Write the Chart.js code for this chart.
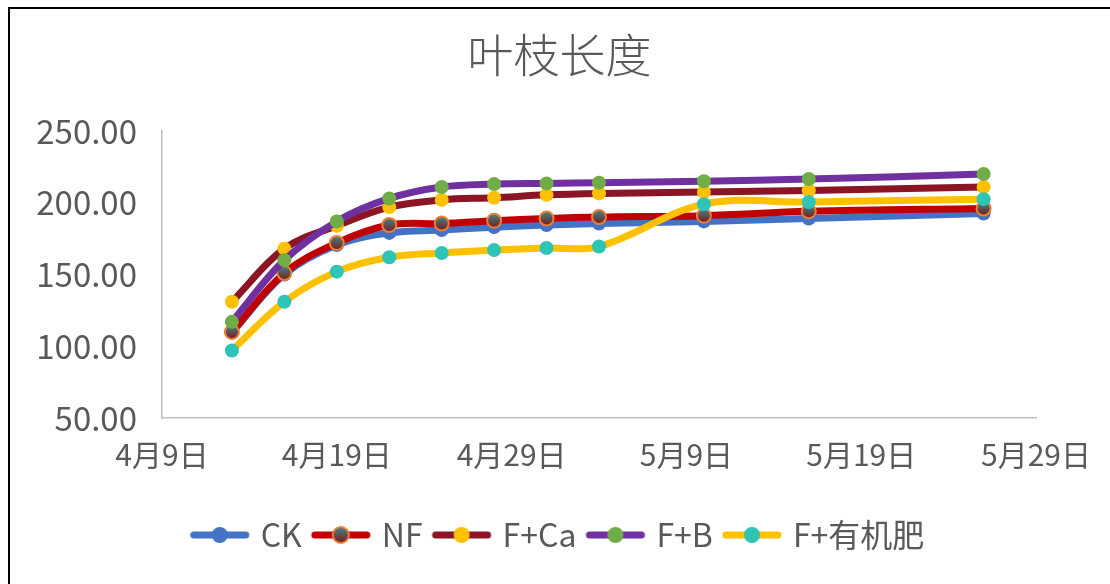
<!DOCTYPE html>
<html>
<head>
<meta charset="utf-8">
<script src="https://cdn.jsdelivr.net/npm/chart.js@4.4.1/dist/chart.umd.min.js"></script>
<style>
  html, body { margin: 0; padding: 0; background: #fff; }
  body { width: 1110px; height: 584px; position: relative; overflow: hidden; }
  #frame { position: absolute; left: 8px; top: 7px; width: 1110px; height: 600px;
           border-left: 2px solid #000; border-top: 2px solid #000; }
  #c { position: absolute; left: 0; top: 0; }
</style>
</head>
<body>
<div id="frame"></div>
<canvas id="c" width="1110" height="584"></canvas>
<script>
// Measurement dates (month/day)
const dates = ['4/13', '4/16', '4/19', '4/22', '4/25', '4/28', '5/1', '5/4', '5/10', '5/16', '5/26'];
// Date axis labels, one every 10 days starting at 4月9日
const tickLabels = ['4月9日', '4月19日', '4月29日', '5月9日', '5月19日', '5月29日'];
const seriesNames = ['CK', 'NF', 'F+Ca', 'F+B', 'F+有机肥'];

// Leaf-branch length per treatment
const ck   = [109.5, 150, 170.5, 179, 181, 183, 184.5, 185.5, 187, 189, 192.5];
const nf   = [110, 151, 172, 184.5, 185.5, 187.5, 189, 190, 191, 194, 196];
const fCa  = [131, 168, 184, 197, 202, 203.5, 205.5, 206.5, 207.5, 208.5, 211];
const fB   = [117, 160, 187, 203, 211, 213, 213.5, 214, 215, 216.5, 220];
const fOrg = [97, 131, 152, 162, 165, 167, 168.5, 169.5, 199, 200.5, 202.5];

const values = [ck, nf, fCa, fB, fOrg];

// days counted from 4月9日
function dayOffset(s) {
  const [m, d] = s.split('/').map(Number);
  return (m === 4 ? d : 30 + d) - 9;
}
const xs = dates.map(dayOffset);
const toPoints = arr => arr.map((v, i) => ({ x: xs[i], y: v }));

const TEXT = '#595959';
const FONT = "'Noto Sans CJK SC', sans-serif";

const styles = [
  { line: '#4472C4', fill: '#4472C4', edge: null },
  { line: '#C00000', fill: 'gradient', edge: '#ED7D31' },
  { line: '#8B1525', fill: '#FFC000', edge: null },
  { line: '#7030A0', fill: '#70AD47', edge: null },
  { line: '#FFC000', fill: '#2EC4B6', edge: null }
];

const R = 7;
const NF_FLAT = '#5C4D4E';

function markerGradient(ctx, y, r) {
  const g = ctx.createLinearGradient(0, y - r, 0, y + r);
  g.addColorStop(0, '#3F8688');
  g.addColorStop(1, '#7A1A1C');
  return g;
}

function pointFill(st) {
  if (st.fill !== 'gradient') return st.fill;
  return c => {
    if (c.type !== 'data' || !c.raw || !c.chart.scales || !c.chart.scales.y) return NF_FLAT;
    const y = c.chart.scales.y.getPixelForValue(c.raw.y);
    if (!Number.isFinite(y)) return NF_FLAT;
    return markerGradient(c.chart.ctx, y, R);
  };
}

// legend swatch: short thick line with a marker in the middle
function legendSwatch(st) {
  const cv = document.createElement('canvas');
  cv.width = 66; cv.height = 22;
  const g = cv.getContext('2d');
  g.strokeStyle = st.line;
  g.lineWidth = 7;
  g.lineCap = 'round';
  g.beginPath(); g.moveTo(7, 11); g.lineTo(59, 11); g.stroke();
  g.beginPath(); g.arc(33, 11, 8, 0, Math.PI * 2);
  g.fillStyle = st.fill === 'gradient' ? markerGradient(g, 11, 8) : st.fill;
  g.fill();
  if (st.edge) { g.lineWidth = 2; g.strokeStyle = st.edge; g.stroke(); }
  return cv;
}

// title and legend are centred over the whole frame, not the padded area
const centreShift = {
  id: 'centreShift',
  afterLayout(chart) {
    const dx = 33;
    [chart.titleBlock, chart.legend].forEach(b => {
      if (b) { b.left += dx; b.right += dx; }
    });
  }
};

const datasets = values.map((arr, i) => ({
  label: seriesNames[i],
  data: toPoints(arr),
  order: values.length - i,          // later series drawn on top
  borderColor: styles[i].line,
  backgroundColor: styles[i].line,
  borderWidth: 7,
  borderCapStyle: 'round',
  borderJoinStyle: 'round',
  tension: 0.36,
  fill: false,
  pointRadius: R,
  pointHoverRadius: R,
  pointBackgroundColor: pointFill(styles[i]),
  pointBorderColor: styles[i].edge || 'rgba(0,0,0,0)',
  pointBorderWidth: styles[i].edge ? 2 : 0
}));

new Chart(document.getElementById('c'), {
  type: 'line',
  data: { datasets },
  plugins: [centreShift],
  options: {
    responsive: false,
    animation: false,
    devicePixelRatio: 1,
    layout: { padding: { left: 10, right: 67, top: 12, bottom: 23 } },
    plugins: {
      title: {
        display: true,
        text: '叶枝长度',
        color: TEXT,
        font: { family: FONT, size: 46, weight: 300, lineHeight: 1.2 },
        padding: { top: 15, bottom: 48.8 }
      },
      legend: {
        position: 'bottom',
        labels: {
          usePointStyle: true,
          pointStyleWidth: 50,
          padding: 14,
          color: TEXT,
          font: { family: FONT, size: 32 },
          generateLabels: chart => chart.data.datasets.map((ds, i) => ({
            text: ds.label,
            pointStyle: legendSwatch(styles[i]),
            fillStyle: styles[i].line,
            strokeStyle: 'rgba(0,0,0,0)',
            lineWidth: 0,
            fontColor: TEXT,
            hidden: false,
            datasetIndex: i
          }))
        }
      },
      tooltip: { enabled: false }
    },
    scales: {
      x: {
        type: 'linear',
        min: 0,
        max: 50,
        afterFit: s => { s.height = 87; },
        grid: { display: false, drawTicks: false },
        border: { display: true, color: '#BFBFBF', width: 1.5 },
        ticks: {
          stepSize: 10,
          padding: 19,
          autoSkip: false,
          maxRotation: 0,
          color: TEXT,
          font: { family: FONT, size: 30 },
          callback: v => tickLabels[Math.round(v / 10)]
        }
      },
      y: {
        min: 50,
        max: 250,
        afterFit: s => { s.width = 152; },
        grid: { display: false, drawTicks: false },
        border: { display: true, color: '#BFBFBF', width: 1.5 },
        ticks: {
          stepSize: 50,
          padding: 25,
          color: TEXT,
          font: { family: FONT, size: 33 },
          callback: v => v.toFixed(2)
        }
      }
    }
  }
});
</script>
</body>
</html>
